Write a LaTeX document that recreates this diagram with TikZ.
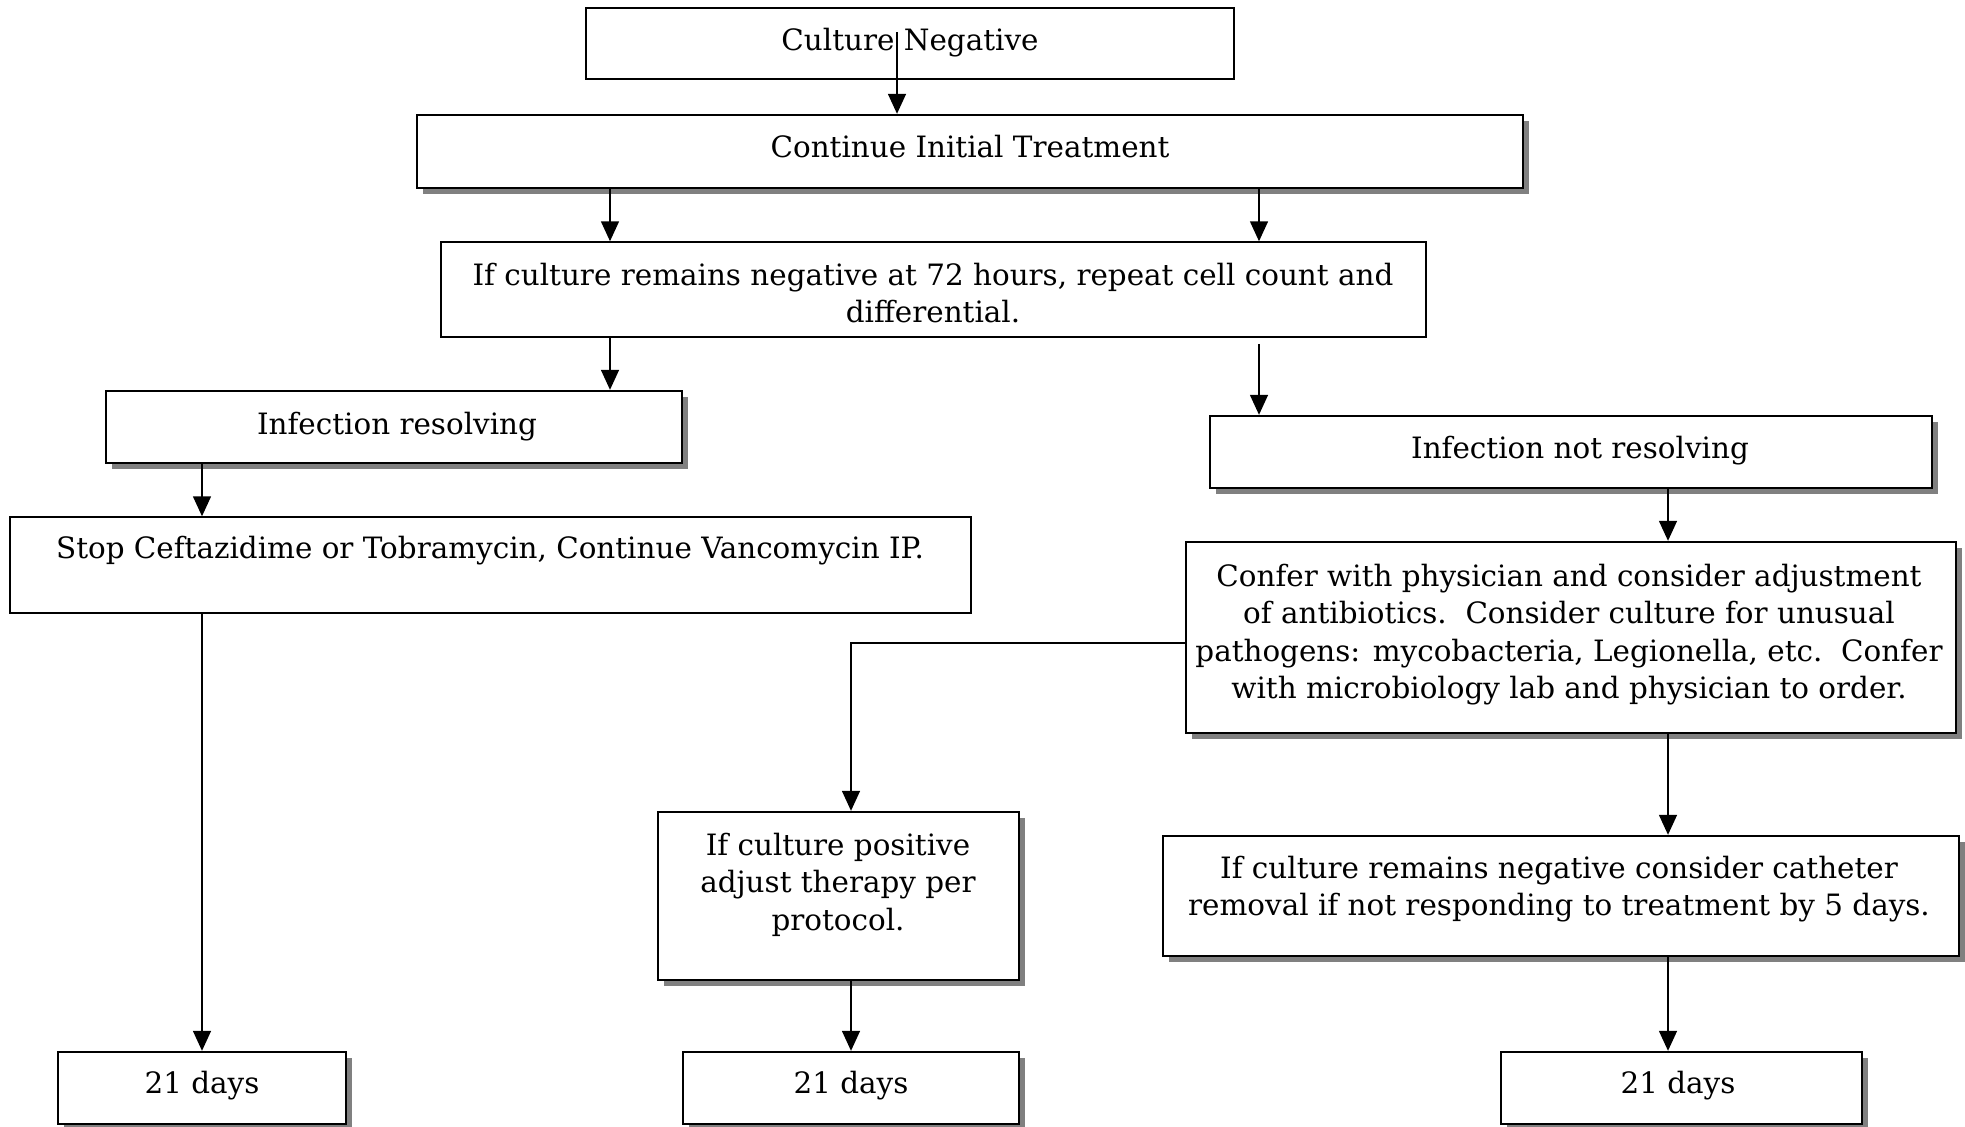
\documentclass[tikz,border=0pt]{standalone}
\usepackage{fontspec}
\setmainfont{DejaVu Serif}
\usetikzlibrary{arrows.meta,shadows}
\newcommand\mytab[1]{\begin{tabular}[t]{@{}c@{}}#1\end{tabular}}
\newcommand\mybox[6]{\node[#6, minimum width={(#4-#2)*0.5pt}, minimum height={(#5-#3)*0.5pt}] (#1) at ({(#2+#4)/2},{(#3+#5)/2}) {};}
\tikzset{
  boxthin/.style={draw, line width=0.75pt, inner sep=0pt, fill=white},
  boxshad/.style={draw, line width=1.2pt, inner sep=0pt, fill=white,
    drop shadow={shadow xshift=3.2pt, shadow yshift=-3.2pt, fill=black!50, opacity=1}},
  txt/.style={inner sep=0pt, anchor=base, font=\fontsize{14.7}{18.75}\selectfont},
  conn/.style={line width=0.75pt, -{Triangle[length=10pt,width=9pt]}},
}
\begin{document}
\begin{tikzpicture}[x=0.5pt,y=-0.5pt]
\useasboundingbox (0,0) rectangle (1965,1126);
\fill[white] (0,0) rectangle (1965,1126);
% boxes
\mybox{cn}{586}{8}{1234}{79}{boxthin}
\mybox{cont}{417}{115}{1523}{188}{boxshad}
\mybox{h72}{441}{242}{1426}{337}{boxthin}
\mybox{ires}{106}{391}{682}{463}{boxshad}
\mybox{stop}{10}{517}{971}{613}{boxthin}
\mybox{inr}{1210}{416}{1932}{488}{boxshad}
\mybox{confer}{1186}{542}{1956}{733}{boxshad}
\mybox{icp}{658}{812}{1019}{980}{boxshad}
\mybox{icr}{1163}{836}{1959}{956}{boxshad}
\mybox{d1}{58}{1052}{346}{1124}{boxshad}
\mybox{d2}{683}{1052}{1019}{1124}{boxshad}
\mybox{d3}{1501}{1052}{1862}{1124}{boxshad}
% texts
\node[txt] (cn-t) at (910,50) {\mytab{Culture Negative}};
\node[txt] (cont-t) at (970,157) {\mytab{Continue Initial Treatment}};
\node[txt] (h72-t) at (933,285) {\mytab{If culture remains negative at 72 hours, repeat cell count and\\differential.}};
\node[txt] (ires-t) at (397,434) {\mytab{Infection resolving}};
\node[txt] (stop-t) at (490,558) {\mytab{Stop Ceftazidime or Tobramycin, Continue Vancomycin IP.}};
\node[txt] (inr-t) at (1580,458) {\mytab{Infection not resolving}};
\node[txt] (confer-t) at (1569,586) {\mytab{Confer with physician and consider adjustment\\of antibiotics.\ \ Consider culture for unusual\\pathogens: mycobacteria, Legionella, etc.\ \ Confer\\with microbiology lab and physician to order.}};
\node[txt] (icp-t) at (838,855) {\mytab{If culture positive\\adjust therapy per\\protocol.}};
\node[txt] (icr-t) at (1559,878) {\mytab{If culture remains negative consider catheter\\removal if not responding to treatment by 5 days.}};
\node[txt] (d1-t) at (202,1093) {\mytab{21 days}};
\node[txt] (d2-t) at (851,1093) {\mytab{21 days}};
\node[txt] (d3-t) at (1678,1093) {\mytab{21 days}};
% connectors
\coordinate (cnS) at (897,32);
\coordinate (xa) at (610,0);
\coordinate (xb) at (1259,0);
\coordinate (xc) at (202,0);
\coordinate (xd) at (1668,0);
\coordinate (xe) at (851,0);
\coordinate (ya) at (0,643);
\draw[conn] (cnS) -- (cont.north -| cnS);
\draw[conn] (cont.south -| xa) -- (h72.north -| xa);
\draw[conn] (cont.south -| xb) -- (h72.north -| xb);
\draw[conn] (h72.south -| xa) -- (ires.north -| xa);
\draw[conn, shorten <=3pt] (h72.south -| xb) -- (inr.north -| xb);
\draw[conn] (ires.south -| xc) -- (stop.north -| xc);
\draw[conn] (inr.south -| xd) -- (confer.north -| xd);
\draw[conn] (stop.south -| xc) -- (d1.north -| xc);
\draw[conn] (confer.west |- ya) -| (icp.north -| xe);
\draw[conn] (confer.south -| xd) -- (icr.north -| xd);
\draw[conn] (icp.south -| xe) -- (d2.north -| xe);
\draw[conn] (icr.south -| xd) -- (d3.north -| xd);
\end{tikzpicture}
\end{document}
